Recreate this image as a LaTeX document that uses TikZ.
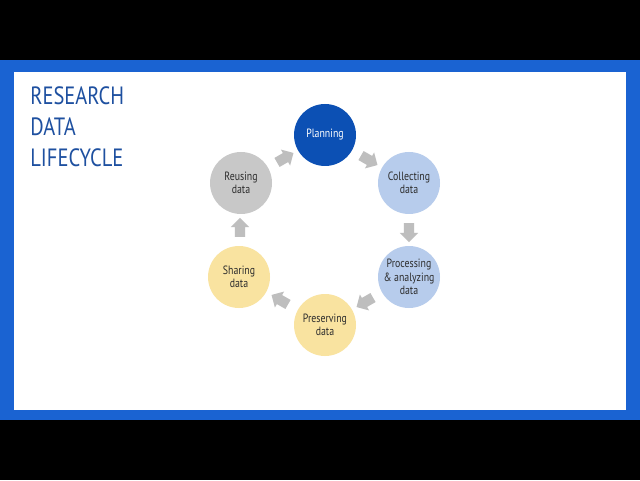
\documentclass[tikz,border=0pt]{standalone}
\usepackage{fontspec}
\setmainfont{PT Sans}
\newfontfamily\slidefont[FakeStretch=0.82]{PT Sans}
\usetikzlibrary{shapes.arrows,calc}
\definecolor{frameblue}{RGB}{26,99,210}
\definecolor{titleblue}{RGB}{30,80,160}
\definecolor{darkblue}{RGB}{12,80,180}
\definecolor{paleblue}{RGB}{183,204,236}
\definecolor{paleyellow}{RGB}{249,227,160}
\definecolor{palegray}{RGB}{200,200,200}
\definecolor{arrowgray}{RGB}{190,190,190}
\definecolor{darktext}{RGB}{45,45,45}

\begin{document}
\begin{tikzpicture}[x=0.5pt, y=-0.5pt,
    stage/.style={circle, minimum size=31pt, inner sep=0pt, align=center,
        font=\slidefont\fontsize{6}{6.6}\selectfont, text=darktext},
    flow/.style={single arrow, fill=arrowgray, draw=none, minimum height=9.5pt,
        minimum width=9pt, single arrow head extend=2pt, inner sep=2.4pt}
]
\useasboundingbox (0,0) rectangle (640,480);
\fill[black] (0,0) rectangle (640,480);
\fill[frameblue] (0,60) rectangle (640,420);
\fill[white] (14,72) rectangle (626,410);

\node[anchor=north west, inner sep=0pt, align=left, text=titleblue,
    font=\slidefont\fontsize{12.5}{15.5}\selectfont] (title) at (30,86)
    {RESEARCH\\DATA\\LIFECYCLE};

\node[stage, fill=darkblue, text=white] (plan) at (325,135) {Planning};
\node[stage, fill=paleblue] (coll) at (409,183) {Collecting\\data};
\node[stage, fill=paleblue] (proc) at (409,277) {Processing\\\& analyzing\\data};
\node[stage, fill=paleyellow] (pres) at (325,325) {Preserving\\data};
\node[stage, fill=paleyellow] (shar) at (239,277) {Sharing\\data};
\node[stage, fill=palegray] (reus) at (241,183) {Reusing\\data};

% cycle arrows
\node[flow, rotate=30] (a1) at ($(reus)!0.5!(plan)$) {};
\node[flow, rotate=-30] (a2) at ($(plan)!0.5!(coll)$) {};
\node[flow, rotate=-90] (a3) at ($(coll)!0.5!(proc)$) {};
\node[flow, rotate=210] (a4) at ($(proc)!0.5!(pres)$) {};
\node[flow, rotate=150] (a5) at ($(pres)!0.5!(shar)$) {};
\node[flow, rotate=90] (a6) at ($(shar)!0.5!(reus)$) {};
\end{tikzpicture}
\end{document}
